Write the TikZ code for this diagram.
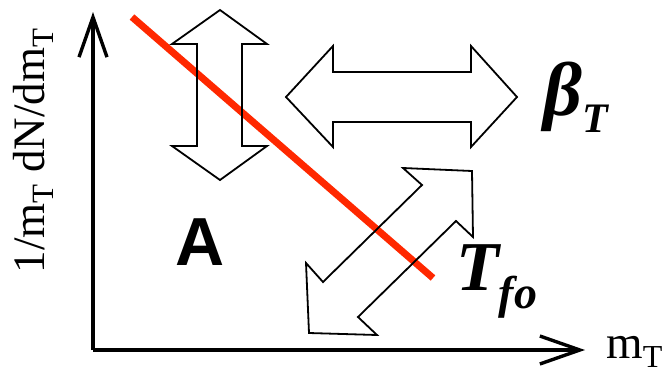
\documentclass[tikz,border=0pt]{standalone}
\usepackage{fontspec}
\setmainfont{Liberation Serif}
\newfontfamily\labelsans{Liberation Sans}
\usepackage{xcolor}
\usetikzlibrary{arrows.meta}

\definecolor{fitred}{RGB}{255,40,0}

\newcommand{\subT}[2]{\raisebox{-#1}{\fontsize{#2}{#2}\selectfont T}}

\begin{document}
\begin{tikzpicture}[
        x=1pt, y=-1pt,
        axis/.style={line width=3.4pt,
            -{Straight Barb[length=40pt, width=28pt]}},
        fitline/.style={line width=7pt, draw=fitred},
        hollow/.style={draw=black, line width=1.8pt, line join=miter},
        axislabel/.style={font=\fontsize{47}{47}\selectfont, inner sep=0pt},
        paramlabel/.style={font=\fontsize{76}{76}\selectfont\bfseries\itshape,
            inner sep=0pt, anchor=base west},
    ]
    \useasboundingbox (0,0) rectangle (667,373);

    % 1. Axes
    \coordinate (origin) at (93,350);
    \coordinate (ytop) at (93,12);
    \coordinate (xend) at (585,350);
    \draw[axis] (origin) -- (ytop);
    \draw[axis] (origin) -- (xend);

    \node[axislabel, rotate=90, anchor=base, font=\fontsize{45}{45}\selectfont]
        (ylab) at (45,151)
        {1/m\subT{9pt}{31} dN/dm\subT{9pt}{31}};
    \node[axislabel, anchor=base west] (xlab) at (606,358)
        {m\subT{9pt}{32}};

    % 2. Spectrum line
    \coordinate (fit_a) at (132,17);
    \coordinate (fit_b) at (433,278);
    \draw[fitline] (fit_a) -- (fit_b);

    % 3. Hollow double arrows
    % normalisation (vertical)
    \draw[hollow] (220,10) -- (267,44) -- (242,44) -- (242,146) -- (267,146)
        -- (220,180) -- (172,146) -- (197,146) -- (197,44) -- (172,44) -- cycle;
    % flow (horizontal)
    \draw[hollow] (286,97) -- (333,46) -- (333,72) -- (471,72) -- (471,46)
        -- (517,97) -- (471,147) -- (471,122) -- (333,122) -- (333,147) -- cycle;
    % temperature (diagonal)
    \draw[hollow] (403,168) -- (472,171) -- (473,237) -- (456,221) -- (358,317)
        -- (377,335) -- (309,333) -- (306,263) -- (323,282) -- (422,185) -- cycle;

    % 4. Parameter labels
    \node[font=\labelsans\fontsize{68}{68}\selectfont\bfseries,
          inner sep=0pt, anchor=base] (normA) at (200,265) {A};
    \node[paramlabel] (beta) at (543,115)
        {β\raisebox{-17pt}{\fontsize{42}{42}\selectfont T}};
    \node[paramlabel, font=\fontsize{70}{70}\selectfont\bfseries\itshape] (tfo) at (456,290)
        {T\raisebox{-18pt}{\fontsize{46}{46}\selectfont fo}};

\end{tikzpicture}
\end{document}
